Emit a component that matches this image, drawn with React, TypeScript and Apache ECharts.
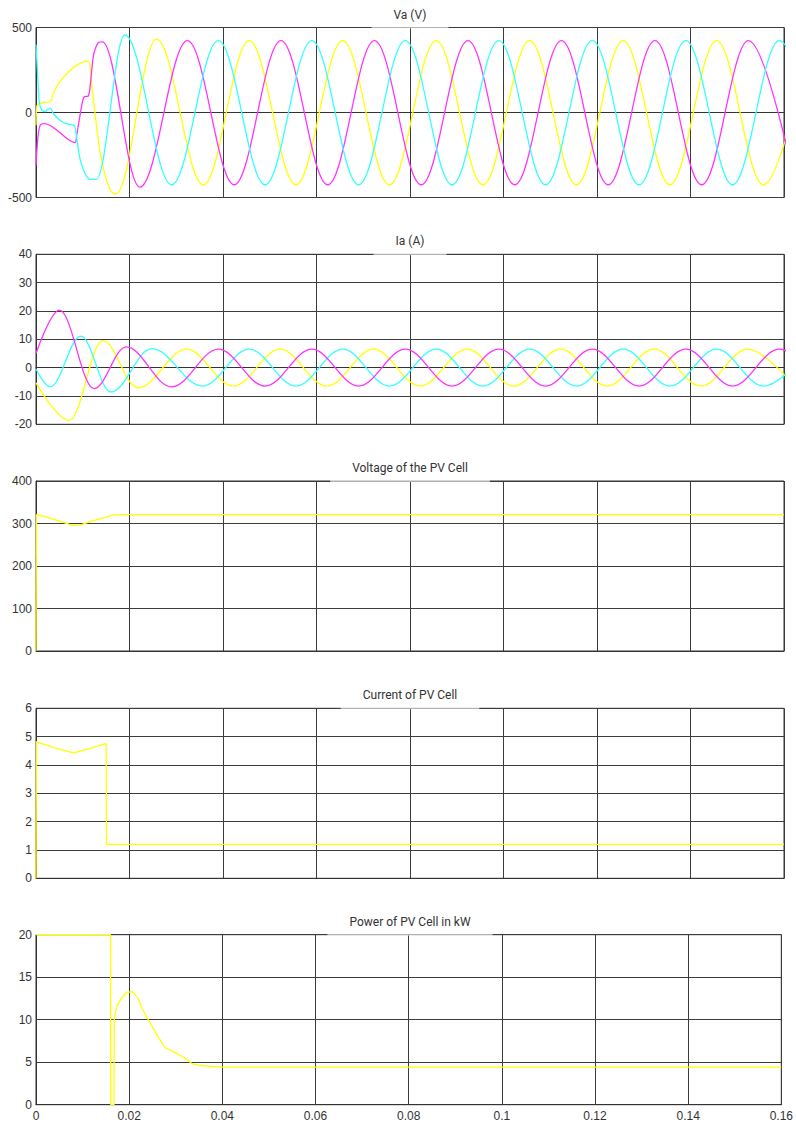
import { useEffect, useRef } from "react";
import * as echarts from "echarts";

// ---------- data (time in s) ----------
const panelTitles = ["Va (V)", "Ia (A)", "Voltage of the PV Cell", "Current of PV Cell", "Power of PV Cell in kW"];
const yMins = [-500, -20, 0, 0, 0];
const yMaxs = [500, 40, 400, 6, 20];
const yIntervals = [500, 10, 100, 1, 5];
const timeMin = 0;
const timeMax = 0.16;
const timeInterval = 0.02;

// Va – start-up transient (read point by point)
const vaYellowStart = [
  [0, -75], [0.0002, 40], [0.0006, 48], [0.0016, 59], [0.0031, 67], [0.0037, 112], [0.0051, 181],
  [0.0073, 249], [0.0094, 289], [0.0112, 302], [0.0119, 161], [0.0126, 0], [0.0137, -232],
  [0.0148, -370], [0.016, -462], [0.0167, -478],
];
const vaMagentaStart = [
  [0, -311], [0.0004, -150], [0.0009, -75], [0.0019, -65], [0.0083, -177], [0.0087, -134],
  [0.0098, 43], [0.0103, 92], [0.0112, 98], [0.0116, 161], [0.0123, 338], [0.013, 397],
  [0.0134, 412], [0.0138, 416],
];
const vaCyanStart = [
  [0, 400], [0.0003, 250], [0.0007, 62], [0.0012, 15], [0.0019, 5], [0.0026, 20], [0.0031, 24],
  [0.0037, -6], [0.0051, -45], [0.0065, -65], [0.008, -75], [0.0083, -78], [0.0094, -271],
  [0.0105, -360], [0.0112, -388], [0.0116, -393], [0.0126, -393],
];
// Va – peaks and troughs afterwards
const vaYellowPeaks = [
  [0.0167, -478], [0.0171, -478], [0.0258, 432], [0.0358, -425], [0.0456, 423], [0.0556, -425],
  [0.0656, 423], [0.0756, -425], [0.0856, 423], [0.0956, -425], [0.1056, 423], [0.1156, -425],
  [0.1256, 423], [0.1356, -425], [0.1456, 423], [0.1556, -425], [0.1656, 423],
];
const vaMagentaPeaks = [
  [0.0138, 416], [0.0142, 416], [0.0222, -439], [0.0324, 423], [0.0424, -425], [0.0524, 423],
  [0.0624, -425], [0.0724, 423], [0.0824, -425], [0.0924, 423], [0.1024, -425], [0.1124, 423],
  [0.1224, -425], [0.1324, 423], [0.1424, -425], [0.1524, 423], [0.1624, -425],
];
const vaCyanPeaks = [
  [0.0126, -393], [0.0129, -393], [0.019, 456], [0.029, -425], [0.039, 423], [0.049, -425],
  [0.059, 423], [0.069, -425], [0.079, 423], [0.089, -425], [0.099, 423], [0.109, -425],
  [0.119, 423], [0.129, -425], [0.139, 423], [0.149, -425], [0.159, 423], [0.169, -425],
];

// Ia – start value, then peaks and troughs
const iaMagenta = [
  [0, 5.0], [0.005, 20.3], [0.0124, -7.4], [0.0193, 7.3], [0.029, -6.8], [0.039, 6.5], [0.049, -6.5],
  [0.059, 6.5], [0.069, -6.5], [0.079, 6.5], [0.089, -6.5], [0.099, 6.5], [0.109, -6.5], [0.119, 6.5],
  [0.129, -6.5], [0.139, 6.5], [0.149, -6.5], [0.159, 6.5], [0.169, -6.5],
];
const iaCyan = [
  [0, -0.5], [0.003, -6.8], [0.0096, 11.1], [0.016, -8.6], [0.0248, 6.7], [0.0356, -6.5], [0.0456, 6.5],
  [0.0556, -6.5], [0.0656, 6.5], [0.0756, -6.5], [0.0856, 6.5], [0.0956, -6.5], [0.1056, 6.5],
  [0.1156, -6.5], [0.1256, 6.5], [0.1356, -6.5], [0.1456, 6.5], [0.1556, -6.5], [0.1656, 6.5],
];
const iaYellow = [
  [0, -5.4], [0.0071, -18.6], [0.0143, 9.5], [0.0218, -7.1], [0.0322, 6.5], [0.0422, -6.5],
  [0.0522, 6.5], [0.0622, -6.5], [0.0722, 6.5], [0.0822, -6.5], [0.0922, 6.5], [0.1022, -6.5],
  [0.1122, 6.5], [0.1222, -6.5], [0.1322, 6.5], [0.1422, -6.5], [0.1522, 6.5], [0.1622, -6.5],
];

const pvVoltage = [
  [0, 0], [0.0001, 321], [0.002, 316], [0.006, 302], [0.008, 295], [0.0095, 297], [0.013, 309],
  [0.0169, 321], [0.16, 321],
];
const pvCurrent = [
  [0, 0], [0.0001, 4.82], [0.004, 4.6], [0.008, 4.43], [0.0115, 4.58], [0.015, 4.76], [0.0151, 1.2],
  [0.16, 1.2],
];
const pvPower = [
  [0, 20], [0.016, 20], [0.01605, 0], [0.01675, 0], [0.0168, 10], [0.0173, 11.5], [0.0183, 12.5],
  [0.0194, 13.2], [0.0207, 13.3], [0.0218, 12.6], [0.0229, 11.2], [0.0247, 9.4], [0.0262, 8.0],
  [0.0277, 6.7], [0.0301, 6.07], [0.0319, 5.5], [0.0336, 4.8], [0.0358, 4.58], [0.04, 4.43],
  [0.16, 4.43],
];

// ---------- styling ----------
const YELLOW = "#ffff00";
const MAGENTA = "#ff33ff";
const CYAN = "#33ffff";
const GRID_TOPS = [27.5, 254.3, 481, 708.3, 934.7];
const GRID_H = 170;
const PLOT_LEFT = 36;
const PLOT_RIGHT = 784;
const W = 796;
const H = 1124;

function lineSeries(data: number[][], color: string, idx: number, smooth: number | boolean, mono: boolean) {
  return {
    type: "line",
    data,
    xAxisIndex: idx,
    yAxisIndex: idx,
    symbol: "none",
    showSymbol: false,
    smooth,
    smoothMonotone: mono ? "x" : undefined,
    lineStyle: { color, width: 1.3 },
    itemStyle: { color },
    silent: true,
    z: 3,
  };
}

export default function App() {
  const ref = useRef<HTMLDivElement>(null);
  useEffect(() => {
    if (!ref.current) return;
    const chart = echarts.init(ref.current, undefined, { renderer: "svg" });
    const labelStyle = { fontFamily: "Liberation Sans, Arial, sans-serif", fontSize: 12, color: "#333" };
    const option: any = {
      animation: false,
      backgroundColor: "#fff",
      title: panelTitles.map((text, i) => ({
        text,
        left: (PLOT_LEFT + PLOT_RIGHT) / 2 - 22,
        top: GRID_TOPS[i] - 23,
        textAlign: "center",
        backgroundColor: "rgba(255,255,255,0.6)",
        padding: [3, 22, 7, 22],
        textStyle: { fontFamily: "Roboto, sans-serif", fontSize: 12, fontWeight: "normal", color: "#333", lineHeight: 14 },
      })),
      grid: GRID_TOPS.map((top) => ({
        left: PLOT_LEFT,
        right: W - PLOT_RIGHT,
        top,
        height: GRID_H,
        show: true,
        borderColor: "#333",
        borderWidth: 1,
        backgroundColor: "transparent",
      })),
      xAxis: GRID_TOPS.map((_, i) => ({
        type: "value",
        gridIndex: i,
        min: timeMin,
        max: timeMax,
        interval: timeInterval,
        axisLine: { show: true, lineStyle: { color: "#333", width: 1 } },
        axisTick: { show: false },
        axisLabel: { show: i === GRID_TOPS.length - 1, margin: 5, ...labelStyle },
        splitLine: { show: true, lineStyle: { color: "#3c3c3c", width: 1 } },
      })),
      yAxis: GRID_TOPS.map((_, i) => ({
        type: "value",
        gridIndex: i,
        min: yMins[i],
        max: yMaxs[i],
        interval: yIntervals[i],
        axisLine: { show: true, onZero: false, lineStyle: { color: "#333", width: 1 } },
        axisTick: { show: false },
        axisLabel: { margin: 4, ...labelStyle },
        splitLine: { show: true, lineStyle: { color: "#3c3c3c", width: 1 } },
      })),
      series: [
        lineSeries(vaYellowStart, YELLOW, 0, 0.3, false),
        lineSeries(vaMagentaStart, MAGENTA, 0, 0.3, false),
        lineSeries(vaCyanStart, CYAN, 0, 0.3, false),
        lineSeries(vaYellowPeaks, YELLOW, 0, 0.36, true),
        lineSeries(vaMagentaPeaks, MAGENTA, 0, 0.36, true),
        lineSeries(vaCyanPeaks, CYAN, 0, 0.36, true),
        lineSeries(iaYellow, YELLOW, 1, 0.36, true),
        lineSeries(iaCyan, CYAN, 1, 0.36, true),
        lineSeries(iaMagenta, MAGENTA, 1, 0.36, true),
        lineSeries(pvVoltage, YELLOW, 2, false, false),
        lineSeries(pvCurrent, YELLOW, 3, false, false),
        lineSeries(pvPower, YELLOW, 4, false, false),
      ],
    };
    chart.setOption(option);
    return () => chart.dispose();
  }, []);
  return <div ref={ref} style={{ position: "absolute", left: 0, top: 0, width: W, height: H }} />;
}
